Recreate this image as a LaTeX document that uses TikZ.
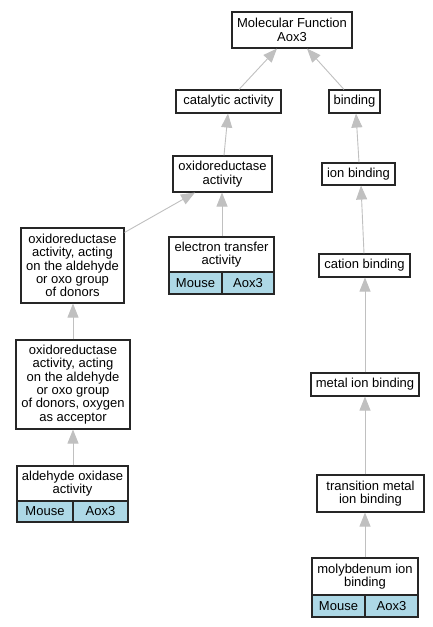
\documentclass[tikz,border=0pt]{standalone}
\usepackage{fontspec}
\setmainfont{Liberation Sans}
\usetikzlibrary{arrows.meta}
\definecolor{cellblue}{HTML}{ADD8E6}
\definecolor{edgegray}{HTML}{C0C0C0}
\tikzset{
  box/.style={draw=black!85, line width=1.1pt, fill=white, inner sep=0pt, align=center,
    font=\fontsize{13}{13.4}\selectfont},
  cell/.style={box, fill=cellblue},
  edge/.style={draw=edgegray, line width=0.9pt,
    -{Triangle[length=14pt, width=11pt, fill=edgegray]}},
}
\begin{document}
\begin{tikzpicture}[x=1pt, y=-1pt]
\fill[white] (0,0) rectangle (433,627);
\useasboundingbox (0,0) rectangle (433,627);

\node[box, minimum width=120pt, minimum height=36pt] (mf) at (292,30) {Molecular Function\\Aox3};
\node[box, minimum width=105pt, minimum height=23pt] (cat) at (228.5,101.5) {catalytic activity};
\node[box, minimum width=51pt, minimum height=23pt] (bind) at (354.5,101.5) {binding};
\node[box, minimum width=99pt, minimum height=36pt] (oxr) at (222.5,174) {oxidoreductase\\activity};
\node[box, minimum width=73pt, minimum height=22pt] (ion) at (358.5,174) {ion binding};
\node[box, minimum width=103pt, minimum height=75pt] (ald) at (72.5,265.5) {oxidoreductase\\activity, acting\\on the aldehyde\\or oxo group\\of donors};

\node[box, minimum width=105pt, minimum height=35pt] (et) at (221.5,254.5) {electron transfer\\activity};
\node[cell, minimum width=53pt, minimum height=22pt] (etm) at (195.5,283) {Mouse};
\node[cell, minimum width=52pt, minimum height=22pt] (eta) at (248,283) {Aox3};

\node[box, minimum width=91pt, minimum height=23pt] (cation) at (364.5,265.5) {cation binding};
\node[box, minimum width=114pt, minimum height=89pt] (oxy) at (73,384.5) {oxidoreductase\\activity, acting\\on the aldehyde\\or oxo group\\of donors, oxygen\\as acceptor};
\node[box, minimum width=108pt, minimum height=23pt] (metal) at (365,384.5) {metal ion binding};

\node[box, minimum width=111pt, minimum height=35pt] (aox) at (72.5,483.5) {aldehyde oxidase\\activity};
\node[cell, minimum width=56pt, minimum height=21pt] (aoxm) at (45,511.5) {Mouse};
\node[cell, minimum width=55pt, minimum height=21pt] (aoxa) at (100.5,511.5) {Aox3};

\node[box, minimum width=107pt, minimum height=37pt] (trans) at (370.5,493.5) {transition metal\\ion binding};

\node[box, minimum width=106pt, minimum height=37pt] (moly) at (365,576.5) {molybdenum ion\\binding};
\node[cell, minimum width=53pt, minimum height=22pt] (molym) at (338.5,606) {Mouse};
\node[cell, minimum width=53pt, minimum height=22pt] (molya) at (391.5,606) {Aox3};

\draw[edge] ([xshift=10.5pt]cat.north) -- ([xshift=-15pt]mf.south);
\draw[edge] ([xshift=-10.5pt]bind.north) -- ([xshift=15pt]mf.south);
\draw[edge] ([xshift=1.5pt]oxr.north) -- ([xshift=-0.5pt]cat.south);
\draw[edge] ([xshift=0.5pt]ion.north) -- ([xshift=1.5pt]bind.south);
\draw[edge] ([yshift=-5pt]ald.north east) -- ([xshift=-27.5pt]oxr.south);
\draw[edge] ([xshift=0.5pt]et.north) -- ([xshift=-0.5pt]oxr.south);
\draw[edge] ([xshift=-0.5pt]cation.north) -- ([xshift=2.5pt]ion.south);
\draw[edge] (metal.north) -- ([xshift=0.5pt]cation.south);
\draw[edge] ([xshift=-5.5pt]trans.north) -- (metal.south);
\draw[edge] (moly.north) -- ([xshift=-5.5pt]trans.south);
\draw[edge] (oxy.north) -- ([xshift=0.5pt]ald.south);
\draw[edge] ([xshift=0.5pt]aox.north) -- (oxy.south);
\end{tikzpicture}
\end{document}
